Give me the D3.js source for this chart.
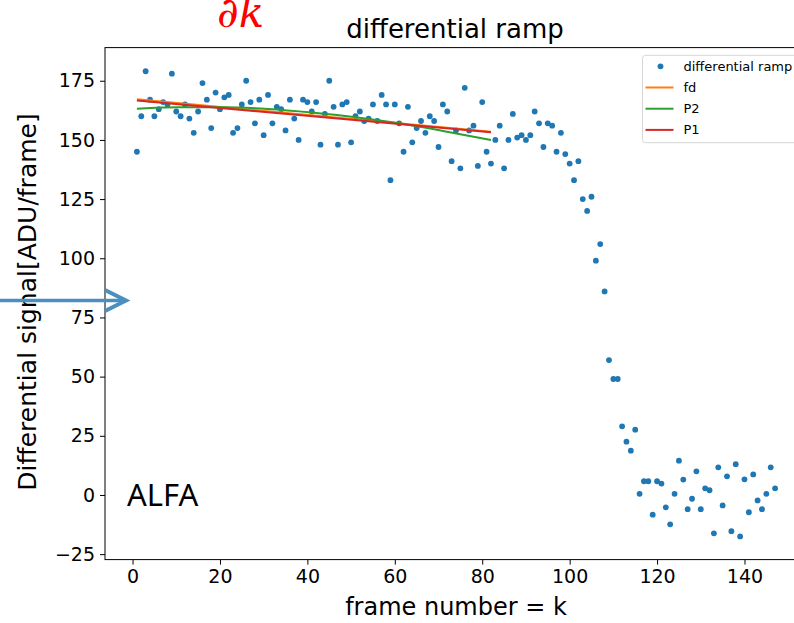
<!DOCTYPE html>
<html>
<head>
<meta charset="utf-8">
<script src="https://cdn.jsdelivr.net/npm/d3@7"></script>
<style>
  body { margin: 0; background: white; }
  svg { display: block; }
</style>
</head>
<body>
<div id="chart"></div>
<script>

////////////////////////////////////////////////////////////////
// Data

// differential signal for frames k = 1 .. 147
let signal = [
  145, 160, 179, 167, 160, 163, 166, 165, 178, 162,
  160, 165, 159, 153, 162, 174, 167, 155, 170, 163,
  168, 169, 153, 155, 165, 175, 166, 157, 167, 152,
  169, 157, 164, 163, 154, 167, 159, 150, 167, 166,
  162, 166, 148, 161, 175, 164, 148, 165, 166, 149,
  160, 162, 158, 159, 165, 158, 169, 165, 133, 165,
  157, 145, 164, 149, 155, 158, 153, 160, 158, 147,
  165, 162, 141, 154, 138, 172, 154, 156, 139, 166,
  145, 140, 150, 156, 138, 150, 161, 151, 152, 150,
  152, 162, 157, 147, 157, 156, 145, 153, 144, 140,
  133, 141, 125, 120, 126, 99, 106, 86, 57, 49,
  49, 29, 22.5, 18.7, 27.6, 0.5, 5.8, 5.8, -8.3, 5.8,
  4.8, -5.2, -12.4, 0.5, 14.5, 6.5, -6, -1.6, 10, -6,
  2.8, 2, -16.2, 11.7, -4.4, 7.9, -15.3, 13, -17.5, 6.6,
  -7.3, 8.7, -2.3, -6, 0.5, 11.7, 2.8
];
let frames = signal.map((d, i) => i + 1);

// fitted lines over the first part of the ramp
let fdK = [1, 82];
let fdVal = [167.2, 153.4];
let p1K = [1, 82];
let p1Val = [166.7, 153.2];
let p2K = [1, 11, 21, 31, 41, 51, 61, 71, 82];
let p2Val = [163.2, 163.8, 163.8, 163.1, 161.6, 159.6, 157.0, 153.8, 150.0];

let xTicks = [0, 20, 40, 60, 80, 100, 120, 140];
let yTicks = [-25, 0, 25, 50, 75, 100, 125, 150, 175];

let legendNames = ["differential ramp", "fd", "P2", "P1"];


////////////////////////////////////////////////////////////////
// Setup

let width = 794, height = 623;
let plotL = 105, plotR = 807, plotT = 47.6, plotB = 559.6;

let svg = d3.select("#chart").append("svg")
  .attr("width", width)
  .attr("height", height)
  .style("font-family", "'DejaVu Sans', sans-serif");

let x = d3.scaleLinear().domain([-6.3, 154.3]).range([plotL, plotR]);
let y = d3.scaleLinear().domain([-27.3, 189]).range([plotB, plotT]);

let blue = "#1f77b4", orange = "#ff7f0e", green = "#2ca02c", red = "#d62728";


////////////////////////////////////////////////////////////////
// Axes

let xAxis = svg.append("g")
  .attr("transform", `translate(0,${plotB})`)
  .call(d3.axisBottom(x).tickValues(xTicks).tickSize(5).tickPadding(5));
let yAxis = svg.append("g")
  .attr("transform", `translate(${plotL},0)`)
  .call(d3.axisLeft(y).tickValues(yTicks).tickSize(5).tickPadding(5)
    .tickFormat(d => d < 0 ? "\u2212" + Math.abs(d) : d));

[xAxis, yAxis].forEach(a => {
  a.selectAll("text")
    .attr("font-size", 19)
    .attr("font-family", "'DejaVu Sans', sans-serif")
    .attr("fill", "black");
  a.selectAll("line").attr("stroke", "black");
  a.select(".domain").remove();
});

// spines (right one is outside the picture)
svg.append("rect")
  .attr("x", plotL)
  .attr("y", plotT)
  .attr("width", plotR - plotL)
  .attr("height", plotB - plotT)
  .attr("fill", "none")
  .attr("stroke", "black")
  .attr("stroke-width", 1);


////////////////////////////////////////////////////////////////
// Marks

svg.append("g")
  .selectAll("circle")
  .data(signal)
  .enter()
  .append("circle")
  .attr("cx", (d, i) => x(frames[i]))
  .attr("cy", d => y(d))
  .attr("r", 2.9)
  .attr("fill", blue);

let line = d3.line().x(d => x(d[0])).y(d => y(d[1]));

svg.append("path")
  .attr("d", line(fdK.map((k, i) => [k, fdVal[i]])))
  .attr("fill", "none")
  .attr("stroke", orange)
  .attr("stroke-width", 2);

svg.append("path")
  .attr("d", line.curve(d3.curveMonotoneX)(p2K.map((k, i) => [k, p2Val[i]])))
  .attr("fill", "none")
  .attr("stroke", green)
  .attr("stroke-width", 2);

svg.append("path")
  .attr("d", line.curve(d3.curveLinear)(p1K.map((k, i) => [k, p1Val[i]])))
  .attr("fill", "none")
  .attr("stroke", red)
  .attr("stroke-width", 2);


////////////////////////////////////////////////////////////////
// Legend

let lg = svg.append("g").attr("transform", "translate(642.5,55.3)");
lg.append("rect")
  .attr("width", 170)
  .attr("height", 87.4)
  .attr("rx", 3)
  .attr("fill", "white")
  .attr("fill-opacity", 0.8)
  .attr("stroke", "#d6d6d6");

let legendColors = [blue, orange, green, red];
legendNames.forEach((name, i) => {
  let yy = 11 + i * 21.2;
  if (i == 0) {
    lg.append("circle")
      .attr("cx", 18).attr("cy", yy).attr("r", 2.9)
      .attr("fill", blue);
  } else {
    lg.append("line")
      .attr("x1", 3).attr("x2", 31)
      .attr("y1", yy).attr("y2", yy)
      .attr("stroke", legendColors[i])
      .attr("stroke-width", 2);
  }
  lg.append("text")
    .attr("x", 41)
    .attr("y", yy + 4.5)
    .attr("font-size", 13)
    .text(name);
});


////////////////////////////////////////////////////////////////
// Titles and labels

svg.append("text")
  .attr("x", 455)
  .attr("y", 38)
  .attr("text-anchor", "middle")
  .attr("font-size", 26)
  .text("differential ramp");

svg.append("text")
  .attr("x", 456)
  .attr("y", 615)
  .attr("text-anchor", "middle")
  .attr("font-size", 24)
  .text("frame number = k");

svg.append("text")
  .attr("transform", "translate(36,302) rotate(-90)")
  .attr("text-anchor", "middle")
  .attr("font-size", 25)
  .text("Differential signal[ADU/frame]");


////////////////////////////////////////////////////////////////
// Annotations pasted on the figure

svg.append("text")
  .attr("x", 217)
  .attr("y", 27)
  .attr("font-family", "'DejaVu Serif', serif")
  .attr("font-style", "italic")
  .attr("font-size", 42)
  .attr("fill", "#ff0000")
  .text("\u2202k");

svg.append("text")
  .attr("x", 127)
  .attr("y", 506)
  .attr("font-family", "'Noto Sans', sans-serif")
  .attr("font-size", 31)
  .attr("fill", "black")
  .text("ALFA");

let arrowColor = "#4a8fbf";
svg.append("line")
  .attr("x1", 0).attr("y1", 300.5)
  .attr("x2", 124).attr("y2", 300.5)
  .attr("stroke", arrowColor)
  .attr("stroke-width", 3.5);
svg.append("path")
  .attr("d", "M105,290 L126,300.5 L105,311")
  .attr("fill", "none")
  .attr("stroke", arrowColor)
  .attr("stroke-width", 4);

</script>
</body>
</html>
